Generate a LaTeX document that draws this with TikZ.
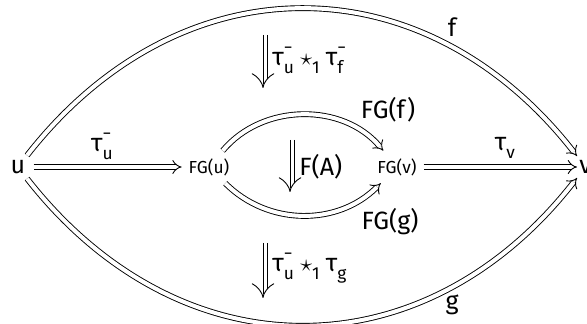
\documentclass[tikz,border=0pt]{standalone}
\usepackage{fontspec}
\setmainfont{Fira Sans}
\usetikzlibrary{arrows.meta}
\newcommand{\smallsz}{\fontsize{8.7}{10}\selectfont}
\newcommand{\tss}[3]{#1\rlap{\raisebox{0.5em}{\smallsz #3}}\raisebox{-0.3em}{\smallsz #2}}
\newcommand{\tsb}[2]{#1\raisebox{-0.3em}{\smallsz #2}}
\newcommand{\strone}{\hspace{0.25em}$\star$\raisebox{-0.3em}{\smallsz 1}\hspace{0.25em}}
\begin{document}
\begin{tikzpicture}[x=0.5pt,y=0.5pt,
  every node/.style={font=\fontsize{12.5}{15}\selectfont},
  obj/.style={text height=1.5ex, text depth=0.25ex},
  endobj/.style={obj, inner sep=1pt},
  dbl/.style={double, double distance=2pt, line width=0.45pt, -{Implies}},
  trip/.style={double, double distance=3.6pt, line width=0.45pt, -{Implies}},
  midline/.style={line width=0.45pt, shorten >=2pt},
  lbl/.style={inner sep=1pt},
]
\useasboundingbox (0,0) rectangle (587,324);
% objects
\node[endobj] (u) at (18,157) {u};
\node[obj] (FGu) at (209,157) {\smallsz FG(u)};
\node[obj] (FGv) at (397,157) {\smallsz FG(v)};
\node[endobj, anchor=west] (v) at (577,157) {v};
% 1-cells
\draw[dbl, shorten <=3pt] (u) -- (FGu);
\draw[dbl] (FGv) -- (v);
\draw[dbl] (u) to[out=52, in=128, looseness=1.16] (v);
\draw[dbl] (u) to[out=-52, in=-128, looseness=1.16] (v);
\draw[dbl] (FGu) to[bend left=50] (FGv);
\draw[dbl] (FGu) to[bend right=45] (FGv);
% 1-cell labels
\node[lbl] (ltu) at (102,178) {\tss{τ}{u}{−}};
\node[lbl] (ltv) at (505,176) {\tsb{τ}{v}};
\node[lbl] (lf) at (452,297) {f};
\node[lbl] (lg) at (452,19) {g};
\node[lbl] (lFGf) at (388,214) {FG(f)};
\node[lbl] (lFGg) at (390,102) {FG(g)};
% 2-cells
\coordinate (a1) at (263,289);
\coordinate (b1) at (263,236);
\coordinate (a2) at (290,184);
\coordinate (b2) at (290,132);
\coordinate (a3) at (263,81);
\coordinate (b3) at (263,26);
\draw[trip] (a1) -- (b1);
\draw[midline] (a1) -- (b1);
\draw[trip] (a2) -- (b2);
\draw[midline] (a2) -- (b2);
\draw[trip] (a3) -- (b3);
\draw[midline] (a3) -- (b3);
\node[lbl, anchor=west] (l1) at (270,264) {\tss{τ}{u}{−}\strone\tss{τ}{f}{−}};
\node[lbl, anchor=west] (l2) at (297,157) {F(A)};
\node[lbl, anchor=west] (l3) at (270,56) {\tss{τ}{u}{−}\strone\tsb{τ}{g}};
\end{tikzpicture}
\end{document}
